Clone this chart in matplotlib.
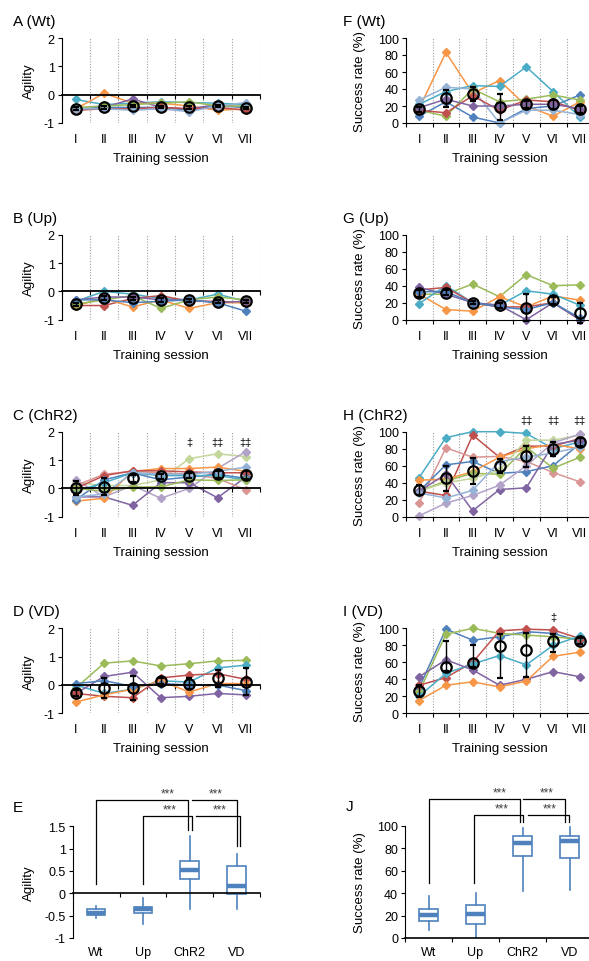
import matplotlib
matplotlib.use("Agg")
import matplotlib.pyplot as plt
import numpy as np

plt.rcParams["font.family"] = ["Liberation Sans", "DejaVu Sans"]
plt.rcParams["axes.unicode_minus"] = False

W, H = 589, 962

SESSIONS = ["I", "II", "III", "IV", "V", "VI", "VII"]
GROUPS = ["Wt", "Up", "ChR2", "VD"]

BLUE, RED, GREEN, PURPLE = "#4F81BD", "#C0504D", "#9BBB59", "#8064A2"
AQUA, ORANGE = "#4BACC6", "#F79646"
LBLUE, LRED, LGREEN, LPURPLE = "#95B3D7", "#D99694", "#C3D69B", "#B3A2C7"

# ---- agility, one row per animal ----
WT_AGI = [
    [-0.17, -0.35, -0.30, -0.25, -0.28, -0.30, -0.35],
    [-0.50, 0.05, -0.30, -0.30, -0.40, -0.55, -0.50],
    [-0.55, -0.45, -0.15, -0.45, -0.50, -0.35, -0.45],
    [-0.50, -0.45, -0.45, -0.45, -0.55, -0.40, -0.45],
    [-0.45, -0.40, -0.35, -0.30, -0.25, -0.40, -0.40],
    [-0.55, -0.50, -0.50, -0.45, -0.50, -0.45, -0.55],
    [-0.50, -0.50, -0.55, -0.50, -0.60, -0.40, -0.28],
]
WT_AGI_MEAN = [-0.50, -0.45, -0.40, -0.43, -0.45, -0.40, -0.48]
WT_AGI_SEM = [0.05, 0.05, 0.05, 0.04, 0.05, 0.03, 0.04]

UP_AGI = [
    [-0.35, 0.00, -0.10, -0.25, -0.30, -0.10, -0.35],
    [-0.50, -0.50, -0.25, -0.15, -0.35, -0.35, -0.40],
    [-0.50, -0.25, -0.55, -0.30, -0.60, -0.40, -0.40],
    [-0.45, -0.30, -0.15, -0.60, -0.30, -0.20, -0.30],
    [-0.30, -0.20, -0.20, -0.30, -0.30, -0.40, -0.35],
    [-0.30, -0.30, -0.40, -0.35, -0.30, -0.40, -0.70],
]
UP_AGI_MEAN = [-0.45, -0.25, -0.25, -0.30, -0.32, -0.37, -0.35]
UP_AGI_SEM = [0.05, 0.07, 0.06, 0.06, 0.04, 0.05, 0.05]

CHR2_AGI = [
    [0.20, 0.10, 0.10, 0.30, 1.05, 1.22, 1.12],
    [0.30, -0.30, 0.10, -0.35, 0.00, 0.70, 1.30],
    [-0.30, -0.30, -0.60, 0.20, 0.20, -0.33, 0.40],
    [-0.45, -0.35, 0.60, 0.70, 0.70, 0.75, 0.60],
    [0.10, 0.50, 0.60, 0.55, 0.50, 0.35, -0.05],
    [0.00, 0.45, 0.62, 0.62, 0.58, 0.55, 0.55],
    [-0.40, 0.30, 0.55, 0.30, 0.40, 0.50, 0.35],
    [-0.10, 0.20, 0.55, 0.45, 0.45, 0.45, 0.30],
    [0.00, -0.10, 0.05, 0.05, 0.30, 0.28, 0.30],
    [-0.30, -0.20, 0.55, 0.50, 0.50, 0.60, 0.75],
]
CHR2_AGI_MEAN = [0.00, 0.05, 0.35, 0.42, 0.45, 0.50, 0.47]
CHR2_AGI_SEM = [0.25, 0.30, 0.12, 0.08, 0.08, 0.13, 0.13]

VD_AGI = [
    [-0.10, 0.77, 0.85, 0.67, 0.75, 0.85, 0.87],
    [0.00, -0.30, -0.15, 0.15, 0.10, 0.60, 0.70],
    [-0.30, 0.30, 0.45, -0.45, -0.40, -0.30, -0.35],
    [-0.30, -0.40, -0.45, 0.25, 0.35, 0.40, 0.20],
    [-0.60, -0.35, -0.15, 0.15, -0.25, 0.05, 0.05],
    [0.05, 0.15, -0.05, 0.05, 0.00, 0.00, -0.20],
]
VD_AGI_MEAN = [-0.28, -0.10, -0.10, 0.15, 0.05, 0.23, 0.12]
VD_AGI_SEM = [0.10, 0.35, 0.43, 0.10, 0.20, 0.30, 0.48]

# ---- success rate (%), one row per animal ----
WT_SUC = [
    [17, 83, 35, 50, 20, 8, 25],
    [22, 37, 44, 43, 66, 37, 7],
    [8, 25, 7, 0, 17, 20, 33],
    [27, 42, 40, 0, 15, 15, 10],
    [15, 8, 40, 25, 28, 33, 27],
    [15, 12, 32, 15, 27, 25, 15],
    [18, 28, 20, 20, 22, 22, 17],
]
WT_SUC_MEAN = [16, 29, 34, 19, 22, 22, 16]
WT_SUC_SEM = [3, 10, 8, 15, 4, 5, 4]

UP_SUC = [
    [30, 30, 42, 27, 53, 40, 41],
    [30, 12, 10, 27, 15, 28, 23],
    [19, 40, 20, 17, 34, 30, 17],
    [35, 38, 20, 15, 15, 20, 0],
    [38, 30, 20, 17, 0, 20, 0],
    [33, 33, 20, 15, 12, 20, 2],
]
UP_SUC_MEAN = [31, 32, 20, 17, 14, 23, 8]
UP_SUC_SEM = [4, 3, 2, 3, 16, 4, 12]

CHR2_SUC = [
    [46, 93, 100, 100, 98, 80, 88],
    [30, 25, 96, 70, 83, 83, 92],
    [16, 81, 70, 71, 65, 52, 41],
    [30, 61, 65, 51, 53, 60, 86],
    [43, 44, 53, 70, 80, 85, 80],
    [30, 42, 51, 50, 82, 57, 70],
    [30, 40, 45, 55, 90, 90, 96],
    [30, 50, 7, 32, 34, 85, 90],
    [1, 16, 25, 37, 60, 87, 97],
    [28, 22, 31, 65, 70, 75, 82],
]
CHR2_SUC_MEAN = [31, 45, 54, 60, 71, 80, 88]
CHR2_SUC_SEM = [6, 15, 15, 8, 12, 8, 5]

VD_SUC = [
    [30, 99, 86, 90, 96, 94, 85],
    [25, 93, 100, 94, 92, 90, 87],
    [33, 42, 60, 97, 99, 98, 88],
    [20, 47, 58, 68, 57, 80, 91],
    [43, 63, 51, 33, 40, 49, 43],
    [15, 33, 37, 31, 38, 67, 72],
]
VD_SUC_MEAN = [26, 54, 59, 79, 74, 85, 85]
VD_SUC_ERR_LO = [7, 4, 4, 38, 31, 13, 4]
VD_SUC_ERR_HI = [7, 31, 21, 14, 20, 8, 4]

# ---- box plot summaries over sessions ----
E_MED = [-0.43, -0.34, 0.52, 0.16]
E_Q1 = [-0.49, -0.45, 0.31, -0.02]
E_Q3 = [-0.34, -0.31, 0.73, 0.62]
E_LO = [-0.56, -0.69, -0.34, -0.34]
E_HI = [-0.28, -0.11, 1.28, 0.88]

J_MED = [20.5, 21, 85, 86]
J_Q1 = [15.4, 12.5, 73, 71]
J_Q3 = [25.8, 29, 91, 91]
J_LO = [7, 0, 42, 43]
J_HI = [37, 40, 98, 99]

# significance brackets (x in group units, y in data units)
E_BRACKETS = [
    ([0, 0, 1.96, 1.96], [0.21, 2.09, 2.09, 1.42]),
    ([1, 1, 2.05, 2.05], [0.21, 1.73, 1.73, 1.42]),
    ([2.05, 3.0, 3.0], [2.09, 2.09, 1.06]),
    ([2.14, 3.08, 3.08], [1.73, 1.73, 1.06]),
]
E_STARS = [(1.52, 2.24), (1.57, 1.88), (2.56, 2.24), (2.63, 1.88)]
J_BRACKETS = [
    ([0, 0, 1.94, 1.94], [49, 123.7, 123.7, 103.5]),
    ([0.97, 0.97, 2.02, 2.02], [49, 109.5, 109.5, 103.5]),
    ([2.02, 2.91, 2.91], [123.7, 123.7, 103.5]),
    ([2.11, 2.98, 2.98], [109.5, 109.5, 103.5]),
]
J_STARS = [(1.52, 130), (1.56, 115.5), (2.51, 130), (2.58, 115.5)]

# session daggers
C_DAGGERS = [(5, "‡"), (6, "‡‡"), (7, "‡‡")]
H_DAGGERS = [(5, "‡‡"), (6, "‡‡"), (7, "‡‡")]
I_DAGGERS = [(6, "‡")]

COLS_WT = [AQUA, ORANGE, PURPLE, BLUE, GREEN, RED, LBLUE]
COLS_WT_S = [ORANGE, AQUA, BLUE, LBLUE, GREEN, RED, PURPLE]
COLS_UP = [AQUA, RED, ORANGE, GREEN, PURPLE, BLUE]
COLS_UP_S = [GREEN, ORANGE, AQUA, RED, PURPLE, BLUE]
COLS_CHR2 = [LGREEN, LPURPLE, PURPLE, ORANGE, LRED, RED, BLUE, AQUA, GREEN, LBLUE]
COLS_CHR2_S = [AQUA, RED, LRED, BLUE, ORANGE, GREEN, LGREEN, PURPLE, LPURPLE, LBLUE]
COLS_VD = [GREEN, AQUA, PURPLE, RED, ORANGE, BLUE]
COLS_VD_S = [BLUE, GREEN, RED, AQUA, PURPLE, ORANGE]

fig = plt.figure(figsize=(W / 100, H / 100), dpi=100)


def add_axes(x0, x1, ytop, ybot):
    return fig.add_axes([x0 / W, 1 - ybot / H, (x1 - x0) / W, (ybot - ytop) / H])


def label(x, y, s, **kw):
    fig.text(x / W, 1 - y / H, s, va="center", **kw)


def line_panel(ax, series, colors, mean, err, ylim, yticks, agility, daggers=(), dag_y=None):
    x = np.arange(1, len(SESSIONS) + 1)
    for b in np.arange(1.5, 8, 1):
        ax.axvline(b, color="#A0A0A0", ls=(0, (1, 1.5)), lw=0.8, zorder=1)
    for vals, c in zip(series, colors):
        ax.plot(x, vals, color=c, marker="D", ms=3.8, lw=1.1, zorder=2, clip_on=False)
    ax.errorbar(x, mean, yerr=err, fmt="o", ms=7.5, mfc="none", mec="black",
                mew=1.6, ecolor="black", elinewidth=1, capsize=2.5, zorder=5,
                clip_on=False)
    ax.set_xlim(0.5, 7.5)
    ax.set_ylim(*ylim)
    ax.set_yticks(yticks)
    for s in ("top", "right"):
        ax.spines[s].set_visible(False)
    if agility:
        ax.spines["bottom"].set_position(("data", 0))
        ax.spines["bottom"].set_linewidth(1.3)
    ax.set_xticks(np.arange(0.5, 8, 1))
    ax.set_xticklabels([])
    ax.tick_params(axis="x", length=3, width=0.8)
    ax.tick_params(axis="y", length=3, width=0.8, labelsize=9, pad=2)
    for i, s in enumerate(SESSIONS):
        ax.text(i + 1, -0.188, s, transform=ax.get_xaxis_transform(),
                ha="center", va="center", fontsize=9)
    ax.text(0.5, -0.41, "Training session", transform=ax.transAxes,
            ha="center", va="center", fontsize=9.5)
    for xi, s in daggers:
        ax.text(xi, dag_y, s, ha="center", va="center", fontsize=8, clip_on=False)


def box_panel(ax, med, q1, q3, lo, hi, ylim, yticks, yticklabels, brackets, stars):
    stats = [dict(med=m, q1=a, q3=b, whislo=l, whishi=h, label=g)
             for m, a, b, l, h, g in zip(med, q1, q3, lo, hi, GROUPS)]
    ax.bxp(stats, positions=range(len(GROUPS)), widths=0.4, patch_artist=True,
           showcaps=False, showfliers=False,
           boxprops=dict(facecolor="white", edgecolor=BLUE, lw=1.2),
           whiskerprops=dict(color=BLUE, lw=1.2),
           medianprops=dict(color=BLUE, lw=3.2, solid_capstyle="butt"))
    ax.set_xlim(-0.5, 3.5)
    ax.set_ylim(*ylim)
    ax.set_yticks(yticks)
    ax.set_yticklabels(yticklabels)
    for s in ("top", "right"):
        ax.spines[s].set_visible(False)
    ax.spines["bottom"].set_position(("data", 0))
    ax.spines["bottom"].set_linewidth(1.2)
    ax.set_xticks(np.arange(-0.5, 4, 1))
    ax.set_xticklabels([])
    ax.tick_params(axis="x", length=3, width=0.8)
    ax.tick_params(axis="y", length=3, width=0.8, labelsize=9, pad=2)
    for i, g in enumerate(GROUPS):
        ax.text(i, -0.125, g, transform=ax.get_xaxis_transform(),
                ha="center", va="center", fontsize=9)
    for xs, ys in brackets:
        ax.plot(xs, ys, color="black", lw=0.9, clip_on=False)
    for xs, ys in stars:
        ax.text(xs, ys, "***", ha="center", va="center", fontsize=8.5,
                color="#404040", clip_on=False)


LEFT = (61.7, 260)
RIGHT = (405.7, 593.3)
ROWS = [(39, 124), (235.7, 320.7), (432.7, 517.7), (629.3, 714.3)]
AGI_T = [2, 1, 0, -1]
SUC_T = [0, 20, 40, 60, 80, 100]

panels = [
    ("A (Wt)", "F (Wt)", WT_AGI, COLS_WT, WT_AGI_MEAN, WT_AGI_SEM,
     WT_SUC, COLS_WT_S, WT_SUC_MEAN, WT_SUC_SEM, (), ()),
    ("B (Up)", "G (Up)", UP_AGI, COLS_UP, UP_AGI_MEAN, UP_AGI_SEM,
     UP_SUC, COLS_UP_S, UP_SUC_MEAN, UP_SUC_SEM, (), ()),
    ("C (ChR2)", "H (ChR2)", CHR2_AGI, COLS_CHR2, CHR2_AGI_MEAN, CHR2_AGI_SEM,
     CHR2_SUC, COLS_CHR2_S, CHR2_SUC_MEAN, CHR2_SUC_SEM, C_DAGGERS, H_DAGGERS),
    ("D (VD)", "I (VD)", VD_AGI, COLS_VD, VD_AGI_MEAN, VD_AGI_SEM,
     VD_SUC, COLS_VD_S, VD_SUC_MEAN, [VD_SUC_ERR_LO, VD_SUC_ERR_HI], (), I_DAGGERS),
]

for (ytop, ybot), p in zip(ROWS, panels):
    tl, tr, a, ca, am, asem, s, cs, sm, ssem, dl, dr = p
    axl = add_axes(*LEFT, ytop, ybot)
    line_panel(axl, a, ca, am, asem, (-1, 2), AGI_T, True, dl, 1.64)
    axr = add_axes(*RIGHT, ytop, ybot)
    line_panel(axr, s, cs, sm, ssem, (0, 100), SUC_T, False, dr, 113.5)
    label(13, ytop - 17, tl, fontsize=11)
    label(343, ytop - 17, tr, fontsize=11)
    label(29, (ytop + ybot) / 2, "Agility", rotation=90, ha="center", fontsize=9.5)
    label(360, (ytop + ybot) / 2, "Success rate (%)", rotation=90, ha="center", fontsize=9.5)

axe = add_axes(72.7, 260, 827.3, 939)
box_panel(axe, E_MED, E_Q1, E_Q3, E_LO, E_HI, (-1, 1.5),
          [-1, -0.5, 0, 0.5, 1, 1.5], ["-1", "-0.5", "0", "0.5", "1", "1.5"],
          E_BRACKETS, E_STARS)
axj = add_axes(405, 593, 826.7, 939)
box_panel(axj, J_MED, J_Q1, J_Q3, J_LO, J_HI, (0, 100),
          SUC_T, [str(t) for t in SUC_T], J_BRACKETS, J_STARS)
label(13, 808, "E", fontsize=11)
label(346, 807, "J", fontsize=11)
label(29, 883, "Agility", rotation=90, ha="center", fontsize=9.5)
label(360, 883, "Success rate (%)", rotation=90, ha="center", fontsize=9.5)

fig.savefig("out.png", dpi=100)
